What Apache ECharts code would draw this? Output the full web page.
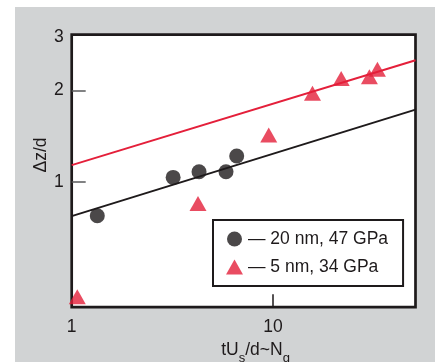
<!DOCTYPE html>
<html>
<head>
<meta charset="utf-8">
<script src="https://cdn.jsdelivr.net/npm/echarts@6.0.0/dist/echarts.min.js"></script>
<style>
  html, body { margin: 0; padding: 0; background: #fff; }
  #chart { position: absolute; left: 15px; top: 7px; width: 420px; height: 355px; background: #d1d3d4; }
</style>
</head>
<body>
<div id="chart"></div>
<script>
  // 20 nm, 47 GPa (circles)
  const circleX = [1.34, 3.19, 4.29, 5.84, 6.6]
  const circleY = [0.775, 1.036, 1.081, 1.081, 1.218]
  // 5 nm, 34 GPa (triangles)
  const triX = [1.066, 4.24, 9.52, 15.7, 21.8, 30.1, 33.0]
  const triY = [0.42, 0.851, 1.428, 1.958, 2.19, 2.22, 2.35]
  // fitted lines (end points)
  const fitX = [1, 51]
  const fit20 = [0.773, 1.73]
  const fit5 = [1.137, 2.515]
  const yTicks = [1, 2, 3]
  const yTickMarks = [1, 2]
  const names = ['20 nm, 47 GPa', '5 nm, 34 GPa']

  const xMin = 1
  const xMax = 51
  const yMin = 0.388
  const yMax = 3.05

  const font = "'Liberation Sans', Arial, sans-serif"
  const fs = 17.5
  const ink = '#1e1a1b'
  const red = '#e41f3a'

  const pairs = (xs, ys) => xs.map((x, i) => [x, ys[i]])

  const chart = echarts.init(document.getElementById('chart'))
  chart.setOption({
    animation: false,
    backgroundColor: 'transparent',
    grid: {
      left: 56.7,
      right: 19.5,
      top: 27.7,
      bottom: 54.8,
      show: true,
      backgroundColor: '#fff',
      borderColor: ink,
      borderWidth: 2.7,
      outerBoundsMode: 'none'
    },
    legend: {
      left: 198,
      top: 213,
      orient: 'vertical',
      selectedMode: false,
      data: [{ name: names[0], icon: 'circle' }, { name: names[1], icon: 'triangle' }],
      itemWidth: 17,
      itemHeight: 15,
      itemGap: 10,
      padding: [10, 15, 10, 13],
      borderWidth: 2,
      borderColor: ink,
      backgroundColor: '#fff',
      formatter: n => '— ' + n,
      textStyle: { fontSize: fs, lineHeight: 15, fontFamily: font, color: ink }
    },
    xAxis: {
      type: 'log',
      min: xMin,
      max: xMax,
      axisLine: { show: false, onZero: false },
      splitLine: { show: false },
      axisTick: { inside: true, length: 13, lineStyle: { color: ink, width: 1.5 } },
      axisLabel: {
        margin: 11,
        fontSize: fs,
        fontFamily: font,
        color: ink,
        showMaxLabel: false,
        formatter: v => String(Math.round(v))
      },
      name: '{m|tU}{s|s}{m|/d~N}{s|g}',
      nameLocation: 'middle',
      nameGap: 24,
      nameTextStyle: {
        padding: [0, 0, 0, 24],
        rich: {
          m: { fontSize: fs, fontFamily: font, color: ink, lineHeight: 20, verticalAlign: 'top' },
          s: { fontSize: 13, fontFamily: font, color: ink, lineHeight: 13, verticalAlign: 'top', padding: [11, 0, 0, 0] }
        }
      }
    },
    yAxis: [
      {
        type: 'log',
        position: 'right',
        min: yMin,
        max: yMax,
        show: false
      },
      {
        type: 'value',
        position: 'left',
        min: Math.log10(yMin),
        max: Math.log10(yMax),
        axisLine: { show: false, onZero: false },
        splitLine: { show: false },
        axisTick: {
          inside: true,
          length: 14,
          customValues: yTickMarks.map(Math.log10),
          lineStyle: { color: '#58595b', width: 1.5 }
        },
        axisLabel: {
          customValues: yTicks.map(Math.log10),
          formatter: v => String(Math.round(Math.pow(10, v))),
          margin: 8,
          fontSize: fs,
          fontFamily: font,
          color: ink
        },
        name: 'Δz/d',
        nameLocation: 'middle',
        nameGap: 22,
        nameMoveOverlap: false,
        nameTextStyle: { fontSize: fs, fontFamily: font, color: ink, padding: [0, 0, 0, 32] }
      }
    ],
    series: [
      {
        type: 'line',
        data: pairs(fitX, fit20),
        showSymbol: false,
        silent: true,
        z: 2,
        lineStyle: { color: ink, width: 2 }
      },
      {
        type: 'line',
        data: pairs(fitX, fit5),
        showSymbol: false,
        silent: true,
        z: 2,
        lineStyle: { color: red, width: 2 }
      },
      {
        name: names[0],
        type: 'scatter',
        symbol: 'circle',
        symbolSize: 15,
        z: 3,
        itemStyle: { color: ink },
        data: pairs(circleX, circleY)
      },
      {
        name: names[1],
        type: 'scatter',
        symbol: 'triangle',
        symbolSize: [17, 15],
        z: 3,
        itemStyle: { color: red },
        data: pairs(triX, triY)
      }
    ]
  })
</script>
</body>
</html>
